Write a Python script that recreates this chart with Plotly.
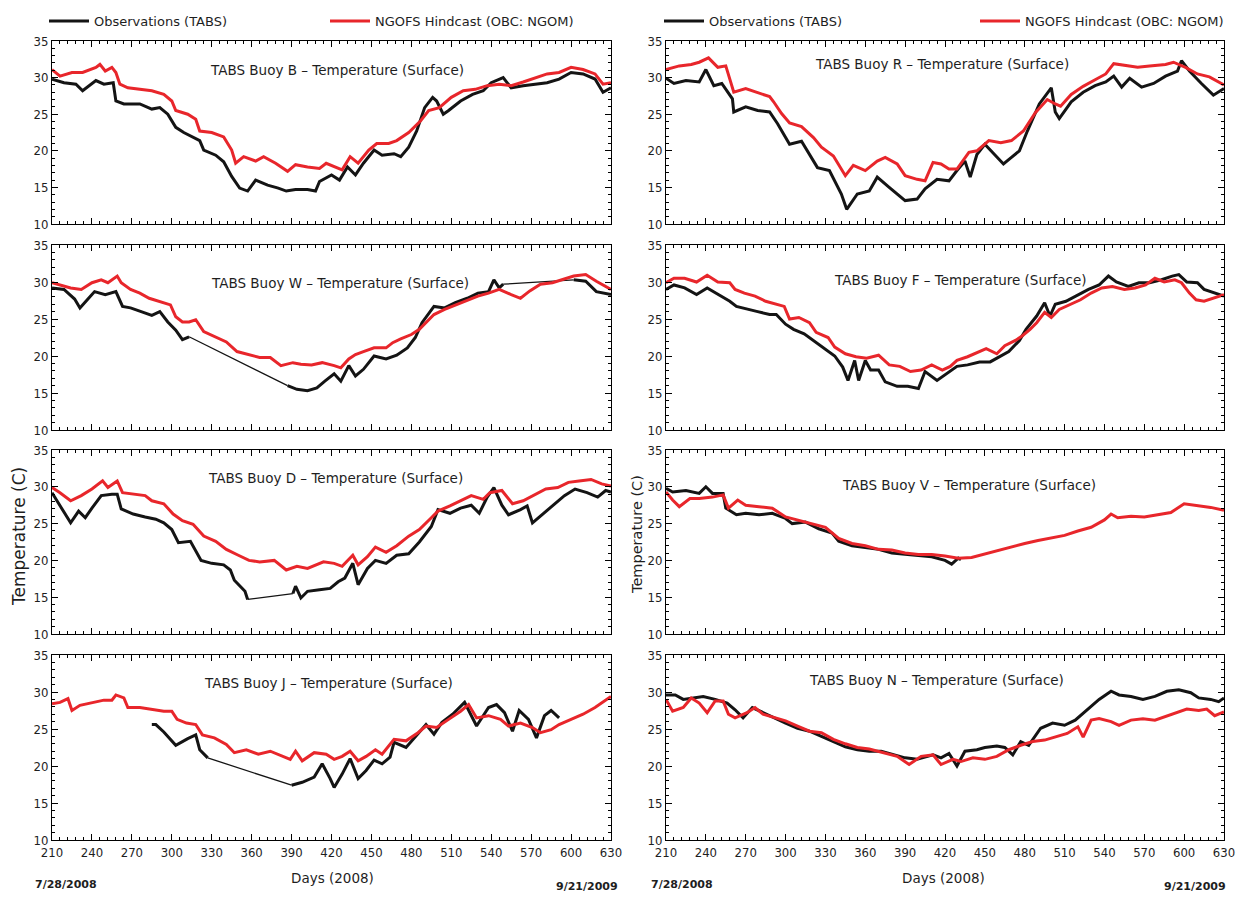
import plotly.graph_objects as go

# ---------------- data (day of 2008, temperature in C) ----------------
# None marks a data gap in the observations (drawn as a thin straight connector)
B_OBS = [(210,29.8),(219,29.3),(228,29.1),(233,28.2),(243,29.6),(249,29.1),(256,29.3),(258,26.8),(264,26.4),(276,26.4),
         (285,25.7),(291,25.9),(297,25.0),(303,23.2),(309,22.5),(315,22.0),(321,21.4),(324,20.1),(333,19.4),(339,18.5),
         (345,16.5),(351,14.9),(357,14.5),(363,16.0),(372,15.3),(380,14.9),(386,14.5),(393,14.7),(402,14.7),(408,14.5),
         (411,15.8),(420,16.7),(426,16.0),(432,17.8),(438,16.7),(444,18.3),(452,20.1),(458,19.4),(467,19.6),(472,19.2),
         (478,20.5),(484,22.7),(490,25.9),(496,27.3),(499,26.8),(504,25.0),(508,25.5),(517,26.8),(526,27.7),(534,28.2),
         (540,29.3),(549,30.0),(555,28.6),(564,28.9),(573,29.1),(582,29.3),(591,29.8),(600,30.7),(609,30.5),(618,29.8),
         (624,28.0),(630,28.6)]
B_MOD = [(210,31.1),(216,30.2),(225,30.7),(233,30.7),(243,31.4),(246,31.8),(250,30.9),(255,31.4),(258,30.7),(261,29.1),
         (267,28.6),(276,28.4),(285,28.2),(294,27.7),(300,26.8),(303,25.5),(312,25.0),(318,24.3),(321,22.7),(330,22.5),
         (339,21.9),(345,20.1),(348,18.3),(354,19.2),(363,18.6),(369,19.2),(378,18.3),(387,17.2),(393,18.1),(402,17.8),
         (411,17.6),(416,18.3),(423,17.8),(428,17.4),(434,19.2),(440,18.3),(448,20.1),(454,21.0),(463,21.0),(469,21.4),
         (478,22.5),(487,24.1),(493,25.5),(501,25.9),(510,27.3),(519,28.2),(528,28.4),(537,28.9),(546,29.1),(555,28.9),
         (564,29.4),(573,30.0),(582,30.5),(591,30.7),(600,31.4),(609,31.1),(618,30.5),(624,29.1),(630,29.3)]

W_OBS = [(210,29.2),(219,29.0),(227,27.7),(231,26.5),(237,27.7),(242,28.7),(250,28.3),(258,28.7),(263,26.7),(269,26.5),
         (277,26.0),(285,25.5),(291,26.0),(297,24.6),(303,23.5),(308,22.2),(313,22.6),(350,None),(387,16.0),(394,15.5),
         (402,15.3),(409,15.7),(415,16.6),(422,17.6),(427,16.6),(433,18.7),(438,17.3),(444,18.2),(452,20.0),(461,19.6),
         (469,20.1),(477,21.1),(483,22.5),(488,24.5),(497,26.7),(505,26.5),(513,27.2),(522,27.8),(530,28.5),(538,28.7),
         (542,30.3),(546,29.2),(549,29.7),(575,None),(602,30.3),(611,30.1),(619,28.7),(630,28.3)]
W_MOD = [(210,29.9),(224,29.2),(232,29.0),(240,29.9),(247,30.3),(252,29.9),(259,30.8),(262,29.9),(269,29.0),(276,28.5),
         (283,27.8),(291,27.4),(299,26.9),(303,25.3),(308,24.6),(313,24.6),(318,24.9),(324,23.3),(332,22.6),(341,21.9),
         (349,20.6),(357,20.2),(366,19.8),(374,19.8),(382,18.7),(391,19.1),(397,18.9),(405,18.8),(413,19.1),(422,18.7),
         (427,18.4),(433,19.6),(438,20.2),(444,20.6),(452,21.1),(461,21.1),(466,21.8),(472,22.3),(480,22.9),(486,23.6),
         (491,24.5),(497,25.6),(505,26.3),(513,26.9),(522,27.6),(530,28.1),(538,28.5),(546,29.0),(555,28.3),(562,27.8),
         (569,28.8),(577,29.7),(586,29.9),(594,30.3),(602,30.8),(611,31.0),(619,30.1),(630,29.0)]

D_OBS = [(210,29.2),(216,27.4),(224,25.1),(230,26.7),(235,25.8),(240,27.1),(247,28.8),(255,29.0),(259,29.0),(262,27.0),
         (271,26.3),(280,25.9),(288,25.6),(294,25.1),(300,24.2),(305,22.4),(314,22.6),(322,20.0),(330,19.6),(339,19.4),
         (344,18.7),(347,17.3),(355,15.8),(357,14.7),(375,None),(391,15.5),(393,16.5),(397,14.9),(402,15.8),(411,16.0),
         (419,16.2),(425,17.1),(430,17.6),(436,19.6),(440,16.7),(447,18.9),(453,20.0),(461,19.6),(469,20.7),(478,20.9),
         (486,22.5),(495,24.6),(500,26.9),(509,26.4),(517,27.1),(525,27.5),(531,26.4),(537,28.6),(542,29.9),(548,27.5),
         (553,26.2),(562,26.9),(567,27.4),(571,25.1),(578,26.2),(587,27.5),(595,28.8),(603,29.7),(612,29.2),(620,28.6),
         (626,29.5),(630,29.3)]
D_MOD = [(210,29.9),(216,29.2),(224,28.1),(232,28.8),(240,29.7),(248,30.8),(252,29.9),(259,30.8),(263,29.2),(271,29.0),
         (280,28.8),(285,28.1),(294,27.7),(301,26.3),(308,25.4),(316,24.9),(324,23.3),(333,22.6),(341,21.5),(350,20.7),
         (358,20.0),(366,19.8),(377,20.0),(386,18.7),(394,19.2),(402,18.9),(414,19.8),(422,19.6),(428,19.2),(436,20.7),
         (440,19.4),(447,20.5),(453,21.8),(461,21.1),(469,22.0),(478,23.3),(486,24.2),(495,25.8),(500,26.7),(509,27.4),
         (517,28.1),(525,28.8),(534,28.3),(539,29.2),(548,29.5),(556,27.7),(564,28.1),(573,29.0),(581,29.7),(590,29.9),
         (598,30.6),(606,30.8),(615,31.0),(623,30.4),(630,30.1)]

J_OBS = [(285,25.6),(288,25.6),(294,24.6),(303,22.8),(312,23.7),(318,24.2),(321,22.2),(327,21.1),(360,None),(390,17.4),
         (398,17.8),(407,18.5),(413,20.3),(419,18.3),(422,17.1),(428,18.9),(434,21.0),(440,18.3),(446,19.4),(452,20.8),
         (458,20.3),(464,21.2),(467,23.2),(476,22.5),(485,24.3),(491,25.6),(497,24.3),(503,25.9),(511,27.0),(520,28.6),
         (529,25.4),(538,27.9),(544,28.3),(550,27.2),(556,24.7),(561,27.5),(568,26.3),(574,23.8),(580,26.8),(585,27.5),
         (591,26.5)]
J_MOD = [(210,28.4),(216,28.6),(222,29.1),(225,27.5),(231,28.2),(240,28.6),(249,28.9),(255,28.9),(258,29.6),(264,29.2),
         (267,27.9),(276,27.9),(285,27.6),(294,27.4),(300,27.4),(304,26.3),(311,25.8),(318,25.6),(323,24.2),(332,23.8),
         (341,22.9),(347,21.8),(356,22.2),(365,21.6),(374,22.0),(383,21.3),(389,20.9),(393,22.0),(398,20.7),(407,21.8),
         (416,21.6),(422,20.9),(428,21.3),(434,22.0),(440,20.7),(446,21.3),(453,22.2),(458,21.6),(467,23.6),(476,23.4),
         (485,24.5),(491,25.4),(499,25.2),(508,26.3),(517,27.4),(523,28.3),(529,26.5),(538,26.8),(547,26.3),(553,25.4),
         (562,25.8),(571,25.2),(577,24.5),(585,24.9),(591,25.6),(600,26.3),(609,27.0),(618,27.9),(624,28.6),(630,29.4)]

R_OBS = [(210,29.9),(216,29.2),(225,29.6),(235,29.4),(240,31.1),(246,28.9),(252,29.2),(260,27.1),(261,25.3),(270,26.0),
         (279,25.5),(288,25.3),(294,23.7),(303,20.9),(312,21.3),(318,19.5),(324,17.7),(333,17.3),(342,14.1),(346,12.0),
         (354,14.1),(363,14.5),(369,16.4),(378,15.0),(384,14.1),(390,13.2),(399,13.4),(405,14.8),(414,16.1),(423,15.9),
         (429,17.3),(435,18.6),(439,16.4),(444,19.5),(450,20.9),(459,19.1),(464,18.2),(470,19.1),(476,20.0),(482,22.7),
         (491,26.4),(500,28.6),(503,25.3),(506,24.4),(515,26.7),(524,28.0),(533,28.9),(541,29.4),(547,30.2),(553,28.7),
         (559,29.9),(568,28.7),(577,29.2),(586,30.2),(595,30.9),(598,32.3),(604,30.9),(613,29.2),(622,27.6),(630,28.5)]
R_MOD = [(210,31.1),(220,31.6),(229,31.8),(235,32.1),(242,32.7),(249,31.4),(255,31.6),(261,28.0),(270,28.5),(279,28.0),
         (288,27.4),(291,26.7),(297,25.1),(303,23.8),(312,23.3),(321,21.8),(327,20.5),(336,19.3),(345,16.6),(351,18.0),
         (360,17.3),(369,18.6),(375,19.1),(384,18.2),(390,16.6),(399,16.1),(405,15.9),(411,18.4),(417,18.2),(423,17.5),
         (429,17.5),(438,19.8),(444,20.0),(453,21.4),(462,21.1),(470,21.4),(479,22.7),(488,25.2),(497,27.0),(503,26.4),
         (507,26.1),(515,27.7),(524,28.8),(533,29.7),(541,30.5),(547,31.9),(556,31.6),(565,31.4),(574,31.6),(586,31.8),
         (592,32.1),(601,31.4),(610,30.5),(619,30.1),(630,29.0)]

F_OBS = [(210,29.0),(216,29.6),(224,29.2),(233,28.3),(241,29.2),(249,28.3),(258,27.4),(263,26.7),(271,26.3),(279,26.0),
         (288,25.6),(293,25.6),(300,24.3),(306,23.6),(314,23.0),(323,21.8),(332,20.7),(337,20.0),(343,18.5),(347,16.7),
         (352,19.4),(355,16.7),(360,19.4),(364,18.1),(370,18.1),(375,16.5),(384,15.9),(392,15.9),(400,15.6),(405,17.9),
         (414,16.7),(421,17.6),(429,18.6),(437,18.8),(446,19.2),(454,19.2),(459,19.7),(468,20.6),(476,22.1),(481,23.6),
         (489,25.4),(495,27.2),(499,25.4),(503,27.0),(511,27.4),(520,28.3),(528,29.0),(536,29.6),(543,30.8),(549,30.0),
         (558,29.4),(566,29.9),(574,29.9),(583,30.3),(591,30.8),(596,31.0),(602,30.0),(610,29.9),(615,29.0),(630,28.1)]
F_MOD = [(210,29.9),(216,30.5),(224,30.5),(233,30.0),(241,30.9),(249,30.0),(258,29.9),(262,29.0),(269,28.5),(277,28.1),
         (285,27.4),(293,27.0),(299,26.7),(303,25.0),(310,25.2),(318,24.5),(323,23.2),(332,22.5),(337,21.2),(345,20.3),
         (353,19.9),(361,19.7),(370,20.1),(378,18.8),(386,18.6),(394,17.9),(402,18.1),(410,18.8),(418,18.1),(424,18.6),
         (429,19.4),(437,19.9),(446,20.6),(451,21.0),(459,20.3),(465,21.4),(473,22.1),(478,22.7),(484,23.6),(489,24.5),
         (495,25.9),(500,25.2),(506,26.3),(514,27.0),(522,27.6),(530,28.5),(538,29.2),(546,29.4),(555,29.0),(563,29.2),
         (571,29.6),(578,30.5),(585,30.0),(593,30.3),(598,29.9),(604,28.5),(609,27.6),(615,27.4),(630,28.3)]

V_OBS = [(210,29.8),(215,29.3),(225,29.5),(235,29.1),(240,30.0),(245,29.1),(253,29.1),(255,27.1),(263,26.2),(270,26.4),
         (280,26.2),(290,26.4),(300,25.7),(305,25.0),(315,25.2),(325,24.3),(335,23.7),(340,22.6),(350,22.0),(360,21.8),
         (370,21.5),(380,21.0),(390,20.8),(400,20.6),(410,20.5),(420,20.0),(425,19.5),(430,20.3),(432,20.1)]
V_MOD = [(210,29.3),(215,28.2),(220,27.3),(228,28.4),(235,28.4),(245,28.6),(253,28.9),(257,27.1),(264,28.2),(270,27.5),
         (280,27.3),(290,27.1),(300,25.9),(310,25.4),(320,25.0),(330,24.5),(340,23.0),(350,22.3),(360,22.0),(370,21.5),
         (380,21.4),(390,21.0),(400,20.8),(410,20.8),(420,20.6),(430,20.3),(440,20.4),(450,20.9),(460,21.3),(470,21.8),
         (480,22.3),(490,22.7),(500,23.0),(510,23.4),(520,24.0),(530,24.5),(540,25.5),(545,26.3),(550,25.8),(560,26.0),
         (570,25.9),(580,26.2),(590,26.5),(600,27.7),(610,27.5),(620,27.2),(630,26.8)]

N_OBS = [(210,29.6),(217,29.6),(223,29.0),(229,29.2),(238,29.4),(247,29.0),(256,28.5),(262,27.6),(268,26.5),(275,27.9),
         (283,27.2),(292,26.5),(300,25.8),(309,25.1),(318,24.7),(327,24.0),(336,23.3),(345,22.6),(354,22.2),(363,22.0),
         (372,22.0),(381,21.5),(390,21.1),(399,20.9),(411,21.5),(417,21.1),(423,21.7),(429,20.0),(435,22.0),(444,22.2),
         (450,22.5),(459,22.7),(465,22.5),(471,21.5),(477,23.3),(483,22.8),(492,25.1),(501,25.8),(510,25.5),(518,26.2),
         (527,27.6),(536,29.0),(545,30.1),(551,29.6),(560,29.4),(569,29.0),(578,29.4),(587,30.1),(596,30.3),(605,29.9),
         (611,29.2),(620,29.0),(626,28.7),(630,29.2)]
N_MOD = [(210,29.0),(215,27.4),(223,27.9),(229,29.2),(235,28.5),(241,27.2),(247,28.8),(253,28.8),(257,27.0),(262,26.5),
         (271,27.2),(277,27.9),(283,27.0),(292,26.5),(300,26.1),(309,25.4),(318,24.7),(327,24.5),(336,23.6),(345,23.0),
         (354,22.5),(363,22.3),(372,21.9),(384,21.3),(393,20.2),(402,21.3),(411,21.5),(417,20.2),(426,20.9),(432,20.6),
         (441,21.1),(450,20.9),(459,21.3),(468,22.2),(477,22.8),(486,23.3),(495,23.5),(503,23.9),(512,24.4),(520,25.3),
         (524,23.9),(530,26.2),(536,26.4),(545,26.0),(551,25.5),(560,26.2),(569,26.4),(578,26.2),(587,26.8),(596,27.3),
         (602,27.7),(611,27.5),(617,27.7),(623,26.8),(630,27.3)]

PANELS = [  # (title, obs, model, column, row)
    ("TABS Buoy B", B_OBS, B_MOD, 0, 0),
    ("TABS Buoy W", W_OBS, W_MOD, 0, 1),
    ("TABS Buoy D", D_OBS, D_MOD, 0, 2),
    ("TABS Buoy J", J_OBS, J_MOD, 0, 3),
    ("TABS Buoy R", R_OBS, R_MOD, 1, 0),
    ("TABS Buoy F", F_OBS, F_MOD, 1, 1),
    ("TABS Buoy V", V_OBS, V_MOD, 1, 2),
    ("TABS Buoy N", N_OBS, N_MOD, 1, 3),
]
SERIES_NAMES = ["Observations (TABS)", "NGOFS Hindcast (OBC: NGOM)"]
X_TICKS = list(range(210, 631, 30))
Y_TICKS = [10, 15, 20, 25, 30, 35]

# ---------------- layout geometry (pixels of the 1241x899 page) ----------------
FW, FH = 1241, 899
def PX(x): return x / FW
def PY(y): return 1 - y / FH

COLS = [(52, 611), (666, 1224)]
ROWS = [(41, 224), (245, 430), (450, 634), (655, 840)]
TITLE_POS = {  # panel title centre (px)
    "TABS Buoy B": (337, 70), "TABS Buoy W": (340, 283), "TABS Buoy D": (335, 478), "TABS Buoy J": (328, 683),
    "TABS Buoy R": (942, 64), "TABS Buoy F": (960, 280), "TABS Buoy V": (969, 485), "TABS Buoy N": (936, 680),
}

BLACK = "#141414"
RED = "#e8262b"
TXT = "#1e1e1e"
FONT = "DejaVu Sans"
TICKFONT = dict(family="Liberation Sans Narrow, DejaVu Sans Condensed, Liberation Sans", size=13, color=TXT)

fig = go.Figure()
layout = dict(
    width=FW, height=FH, margin=dict(l=0, r=0, t=0, b=0, pad=0, autoexpand=False),
    paper_bgcolor="white", plot_bgcolor="white", showlegend=True,
    font=dict(family=FONT, size=12, color=TXT),
)

annotations = []
for i, (title, obs, mod, c, r) in enumerate(PANELS):
    k = "" if i == 0 else str(i + 1)
    xa, ya = "x" + k, "y" + k
    legend_id = "legend" if c == 0 else "legend2"
    show = (r == 0)

    # observations, with gaps
    ox = [d for d, v in obs]
    oy = [v for d, v in obs]
    fig.add_trace(go.Scatter(x=ox, y=oy, mode="lines", line=dict(color=BLACK, width=3),
                             name=SERIES_NAMES[0], showlegend=show, legend=legend_id,
                             xaxis=xa, yaxis=ya, connectgaps=False, hoverinfo="skip"))
    for j, (d, v) in enumerate(obs):
        if v is None:
            (d0, v0), (d1, v1) = obs[j - 1], obs[j + 1]
            fig.add_trace(go.Scatter(x=[d0, d1], y=[v0, v1], mode="lines", line=dict(color=BLACK, width=1.3),
                                     showlegend=False, xaxis=xa, yaxis=ya, hoverinfo="skip"))
    fig.add_trace(go.Scatter(x=[d for d, v in mod], y=[v for d, v in mod], mode="lines",
                             line=dict(color=RED, width=3), name=SERIES_NAMES[1], showlegend=show,
                             legend=legend_id, xaxis=xa, yaxis=ya, hoverinfo="skip"))

    x0, x1 = COLS[c]
    y0, y1 = ROWS[r]
    common = dict(showline=True, linecolor="black", linewidth=1, mirror="allticks", ticks="inside",
                  tickcolor="black", tickwidth=1, ticklen=6, showgrid=False, zeroline=False,
                  tickfont=TICKFONT, ticklabeloverflow="allow")
    layout["xaxis" + k] = dict(common, domain=[PX(x0), PX(x1)], anchor=ya, range=[210, 630],
                               tickvals=X_TICKS, showticklabels=(r == 3),
                               minor=dict(ticks="inside", tickmode="linear", tick0=210, dtick=6, ticklen=3,
                                          tickcolor="black", tickwidth=1, showgrid=False))
    layout["yaxis" + k] = dict(common, domain=[PY(y1), PY(y0)], anchor=xa, range=[10, 35],
                               tickvals=Y_TICKS,
                               minor=dict(ticks="inside", tickmode="linear", tick0=10, dtick=1, ticklen=3,
                                          tickcolor="black", tickwidth=1, showgrid=False))
    tx, ty = TITLE_POS[title]
    annotations.append(dict(text=title + " – Temperature (Surface)", xref="paper", yref="paper",
                            x=PX(tx), y=PY(ty), xanchor="center", yanchor="middle", showarrow=False,
                            font=dict(family=FONT, size=13.5, color=TXT)))

# legends (one per column)
layout["legend"] = dict(orientation="h", x=PX(44), y=PY(6), xanchor="left", yanchor="top",
                        entrywidth=226, entrywidthmode="pixels", bgcolor="rgba(0,0,0,0)",
                        font=dict(family=FONT, size=13, color=TXT), itemwidth=40, traceorder="normal")
layout["legend2"] = dict(orientation="h", x=PX(659), y=PY(6), xanchor="left", yanchor="top",
                         entrywidth=261, entrywidthmode="pixels", bgcolor="rgba(0,0,0,0)",
                         font=dict(family=FONT, size=13, color=TXT), itemwidth=40, traceorder="normal")

# axis titles and dates
for cx, cy, size in [(19, 537, 17), (637, 535, 14.5)]:
    annotations.append(dict(text="Temperature (C)", xref="paper", yref="paper", x=PX(cx), y=PY(cy),
                            textangle=-90, showarrow=False, xanchor="center", yanchor="middle",
                            font=dict(family=FONT, size=size, color=TXT)))
for lx, dx, rx in [(33, 332, 620), (649, 943, 1228)]:
    annotations.append(dict(text="<b>7/28/2008</b>", xref="paper", yref="paper", x=PX(lx), y=PY(884),
                            xanchor="left", yanchor="middle", showarrow=False,
                            font=dict(family=FONT, size=11, color=TXT)))
    annotations.append(dict(text="Days (2008)", xref="paper", yref="paper", x=PX(dx), y=PY(878),
                            xanchor="center", yanchor="middle", showarrow=False,
                            font=dict(family=FONT, size=13.5, color=TXT)))
    annotations.append(dict(text="<b>9/21/2009</b>", xref="paper", yref="paper", x=PX(rx), y=PY(886),
                            xanchor="right", yanchor="middle", showarrow=False,
                            font=dict(family=FONT, size=11, color=TXT)))

layout["annotations"] = annotations
fig.update_layout(**layout)
fig.write_html("out.html", config={"displayModeBar": False},
               post_script="document.body.style.margin='0px';document.body.style.overflow='hidden';")
